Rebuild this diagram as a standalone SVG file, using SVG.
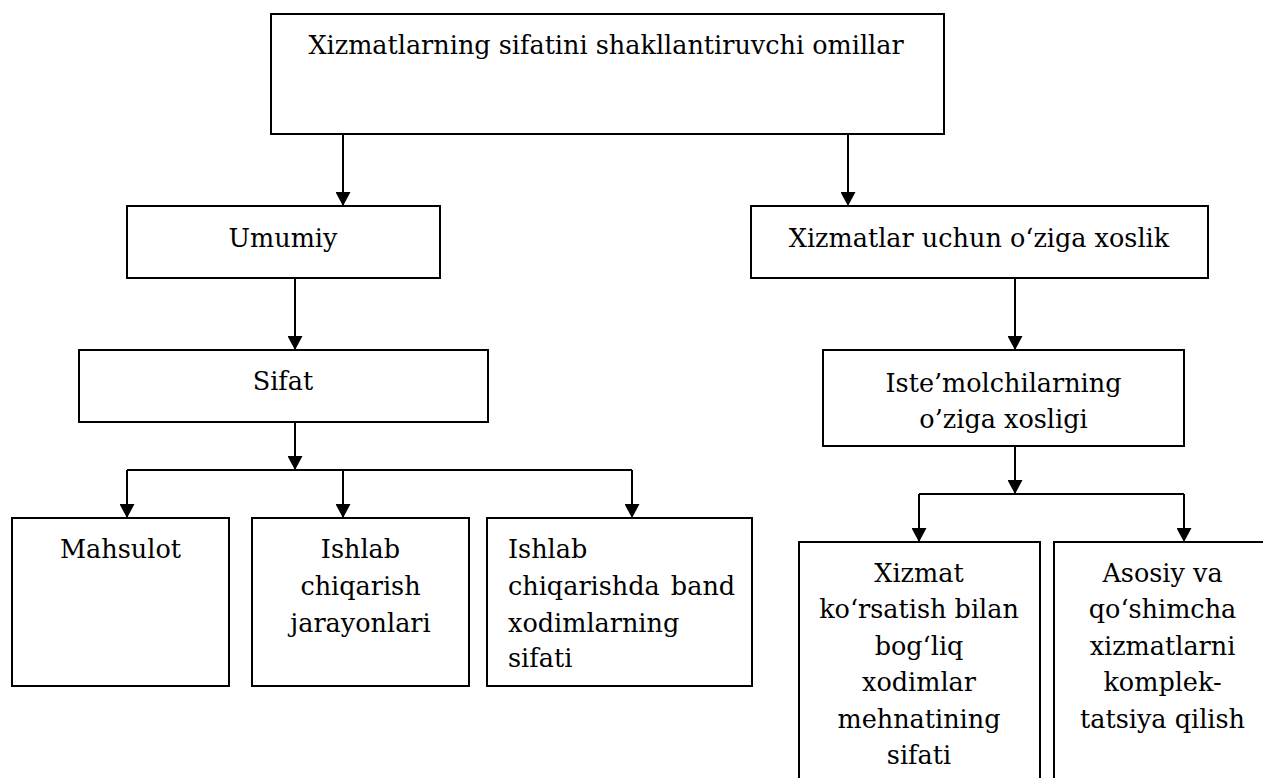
<svg xmlns="http://www.w3.org/2000/svg" width="1263" height="778" viewBox="0 0 1263 778">
  <style>
    .box { fill: #ffffff; stroke: #000000; stroke-width: 2; }
    .lbl { font-family: "DejaVu Serif", serif; font-size: 25.5px; fill: #000000; }
    .c { text-anchor: middle; }
    .wire { fill: none; stroke: #000000; stroke-width: 2; }
    .arrow { fill: none; stroke: #000000; stroke-width: 2; marker-end: url(#head); }
  </style>
  <defs>
    <marker id="head" viewBox="0 0 14 15" refX="14" refY="7.5" markerWidth="14" markerHeight="15" markerUnits="userSpaceOnUse" orient="auto">
      <path d="M0,0 L14,7.5 L0,15 z" fill="#000000"/>
    </marker>
  </defs>
  <rect width="1263" height="778" fill="#ffffff"/>

  <!-- connectors -->
  <g id="connectors">
    <line class="arrow" x1="343" y1="134" x2="343" y2="206"/>
    <line class="arrow" x1="848" y1="134" x2="848" y2="206"/>
    <line class="arrow" x1="295" y1="278" x2="295" y2="350"/>
    <line class="arrow" x1="1015" y1="278" x2="1015" y2="350"/>
    <line class="arrow" x1="295" y1="422" x2="295" y2="470"/>
    <line class="wire" x1="127" y1="470" x2="632" y2="470"/>
    <line class="arrow" x1="127" y1="470" x2="127" y2="518"/>
    <line class="arrow" x1="343" y1="470" x2="343" y2="518"/>
    <line class="arrow" x1="632" y1="470" x2="632" y2="518"/>
    <line class="arrow" x1="1015" y1="446" x2="1015" y2="494"/>
    <line class="wire" x1="919" y1="494" x2="1184" y2="494"/>
    <line class="arrow" x1="919" y1="494" x2="919" y2="542"/>
    <line class="arrow" x1="1184" y1="494" x2="1184" y2="542"/>
  </g>

  <g id="root">
    <rect class="box" x="271" y="14" width="673" height="120"/>
    <text class="lbl c" x="606" y="54">Xizmatlarning sifatini shakllantiruvchi omillar</text>
  </g>

  <g id="umumiy">
    <rect class="box" x="127" y="206" width="313" height="72"/>
    <text class="lbl c" x="283" y="247">Umumiy</text>
  </g>

  <g id="xizmatlar">
    <rect class="box" x="751" y="206" width="457" height="72"/>
    <text class="lbl c" x="979" y="247">Xizmatlar uchun o‘ziga xoslik</text>
  </g>

  <g id="sifat">
    <rect class="box" x="79" y="350" width="409" height="72"/>
    <text class="lbl c" x="283" y="390">Sifat</text>
  </g>

  <g id="istemol">
    <rect class="box" x="823" y="350" width="361" height="96"/>
    <text class="lbl c" x="1003.5" y="391.5">Iste’molchilarning</text>
    <text class="lbl c" x="1003.5" y="428">o’ziga xosligi</text>
  </g>

  <g id="mahsulot">
    <rect class="box" x="12" y="518" width="217" height="168"/>
    <text class="lbl c" x="120.5" y="558">Mahsulot</text>
  </g>

  <g id="jarayonlar">
    <rect class="box" x="252" y="518" width="217" height="168"/>
    <text class="lbl c" x="360.5" y="558">Ishlab</text>
    <text class="lbl c" x="360.5" y="595">chiqarish</text>
    <text class="lbl c" x="360.5" y="631.5">jarayonlari</text>
  </g>

  <g id="xodimlar">
    <rect class="box" x="487" y="518" width="265" height="168"/>
    <text class="lbl" x="508" y="558">Ishlab</text>
    <text class="lbl" x="508" y="595" word-spacing="3">chiqarishda band</text>
    <text class="lbl" x="508" y="631.5">xodimlarning</text>
    <text class="lbl" x="508" y="667">sifati</text>
  </g>

  <g id="mehnat">
    <rect class="box" x="799" y="542" width="241" height="250"/>
    <text class="lbl c" x="919" y="581.5">Xizmat</text>
    <text class="lbl c" x="919" y="618">ko‘rsatish bilan</text>
    <text class="lbl c" x="919" y="654.5">bog‘liq</text>
    <text class="lbl c" x="919" y="691">xodimlar</text>
    <text class="lbl c" x="919" y="727.5">mehnatining</text>
    <text class="lbl c" x="919" y="764">sifati</text>
  </g>

  <g id="komplekt">
    <rect class="box" x="1054" y="542" width="217" height="250"/>
    <text class="lbl c" x="1162.5" y="581.5">Asosiy va</text>
    <text class="lbl c" x="1162.5" y="618">qo‘shimcha</text>
    <text class="lbl c" x="1162.5" y="654.5">xizmatlarni</text>
    <text class="lbl c" x="1162.5" y="691">komplek-</text>
    <text class="lbl c" x="1162.5" y="727.5">tatsiya qilish</text>
  </g>
</svg>
